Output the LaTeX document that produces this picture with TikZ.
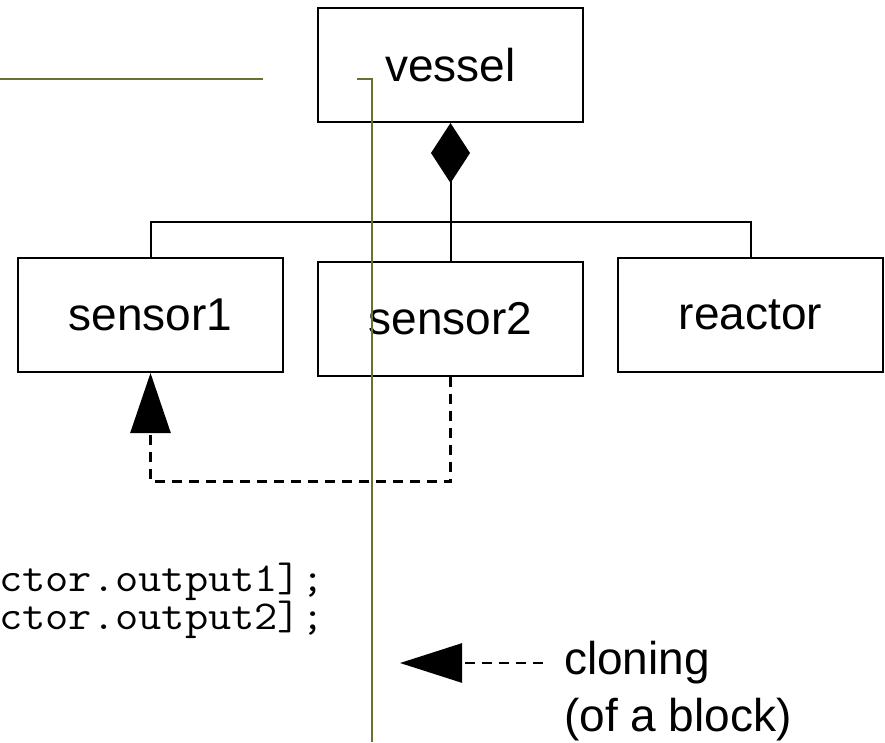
\documentclass[tikz,border=0pt]{standalone}
\usepackage{fontspec}
\setmainfont{Liberation Sans}
\usetikzlibrary{arrows.meta}
\definecolor{guidegreen}{RGB}{100,115,50}

\begin{document}
\begin{tikzpicture}[x=1pt, y=-1pt,
  blk/.style={rectangle, draw=black, line width=2pt, minimum width=265pt,
              minimum height=114pt, inner sep=0pt, font=\fontsize{46}{55}\selectfont},
  comp/.style={-{Diamond[length=60pt, width=39pt]}, line width=2pt},
  bus/.style={line width=2pt},
  dep/.style={-{Triangle[length=60pt, width=40pt]}, line width=2.6pt,
              dash pattern=on 10pt off 7pt},
  guide/.style={draw=guidegreen, line width=1.4pt},
  code/.style={anchor=base west, inner sep=0pt, xscale=1.1, transform shape,
               font=\ttfamily\fontsize{41}{41}\selectfont},
  lbl/.style={anchor=north west, inner sep=0pt, align=left,
              font=\fontsize{46}{57}\selectfont}
]
\useasboundingbox (0,0) rectangle (885,742);
% blocks
\node[blk] (vessel)  at (450.5,65)    {vessel};
\node[blk] (sensor1) at (150.5,315)   {sensor1};
\node[blk] (sensor2) at (450.5,318.5) {sensor2};
\node[blk] (reactor) at (750.5,315)   {reactor};
% composition
\coordinate (busmid) at (450.5,222);
\draw[comp] (sensor2.north) -- (vessel.south);
\draw[bus] (sensor1.north) |- (busmid) -| (reactor.north);
% cloning link
\draw[dep] (sensor2.south) -- ++(0,105) -| (sensor1.south);
% code snippet
\node[code] (line1) at (-1,591) {ctor.output1];};
\node[code] (line2) at (-1,629) {ctor.output2];};
% legend
\node[lbl] (clon) at (564,641) {cloning\\(of a block)};
\coordinate (legtail) at (543,663);
\coordinate (legtip)  at (400,663);
\draw[dep, -{Triangle[length=62pt, width=39pt]}] (legtail) -- (legtip);
% guide lines
\draw[guide] (0,79) -- (263,79);
\draw[guide] (357,79) -| (372,742);
\end{tikzpicture}
\end{document}
